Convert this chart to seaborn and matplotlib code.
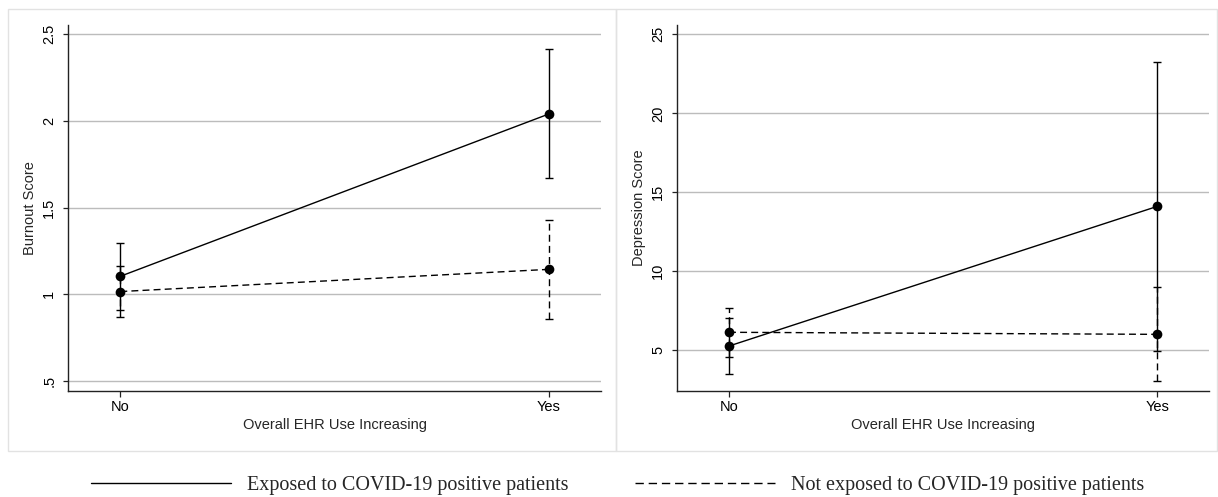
import numpy as np
import pandas as pd
import matplotlib
matplotlib.use("Agg")
import matplotlib.pyplot as plt
from matplotlib.lines import Line2D
from matplotlib.patches import Rectangle
import seaborn as sns

# data
ehr_levels = ["No", "Yes"]
groups = ["Exposed", "Not exposed"]

burnout_exposed = [1.104, 2.04]
burnout_exposed_lo = [0.909, 1.669]
burnout_exposed_hi = [1.296, 2.414]
burnout_notexp = [1.016, 1.144]
burnout_notexp_lo = [0.868, 0.858]
burnout_notexp_hi = [1.165, 1.429]

depr_exposed = [5.27, 14.11]
depr_exposed_lo = [3.50, 4.96]
depr_exposed_hi = [7.06, 23.27]
depr_notexp = [6.14, 6.01]
depr_notexp_lo = [4.59, 3.06]
depr_notexp_hi = [7.68, 8.99]

legend_labels = ["Exposed to COVID-19 positive patients",
                 "Not exposed to COVID-19 positive patients"]

sns.set_style("ticks")
plt.rcParams['font.family'] = ['Liberation Sans', 'DejaVu Sans']
plt.rcParams['font.size'] = 10.5


def make_df(m1, lo1, hi1, m2, lo2, hi2):
    rows = []
    for g, m, lo, hi in [(groups[0], m1, lo1, hi1), (groups[1], m2, lo2, hi2)]:
        for lvl, a, b, c in zip(ehr_levels, m, lo, hi):
            rows.append({'ehr': lvl, 'group': g, 'mean': a, 'lo': b, 'hi': c})
    return pd.DataFrame(rows)


def draw_panel(ax, df, ylabel, ylim, yticks, yticklabels):
    ax.set_xlim(-0.1214, 1.1214)
    ax.set_ylim(*ylim)
    ax.set_yticks(yticks)
    ax.set_yticklabels(yticklabels, rotation=90, va='center')
    for y in yticks:
        ax.axhline(y, color='#bcbcbc', lw=1.0, zorder=0)

    for g in groups:
        sub = df[df['group'] == g]
        eb = ax.errorbar(sub['ehr'], sub['mean'],
                         yerr=[sub['mean'] - sub['lo'], sub['hi'] - sub['mean']],
                         fmt='none', ecolor='black', elinewidth=1.0,
                         capsize=3, capthick=1.0, zorder=2)
        if g == "Not exposed":
            eb[2][0].set_linestyle((0, (5, 3)))

    sns.lineplot(data=df, x='ehr', y='mean', style='group', ax=ax,
                 dashes={"Exposed": '', "Not exposed": (5, 3)},
                 markers={"Exposed": 'o', "Not exposed": 'o'},
                 color='black', lw=1.0, markersize=7,
                 markeredgewidth=0, legend=False, zorder=3)

    ax.set_xlim(-0.1214, 1.1214)
    ax.set_ylim(*ylim)
    ax.set_xlabel("Overall EHR Use Increasing", labelpad=3)
    ax.set_ylabel(ylabel, labelpad=4)
    sns.despine(ax=ax)
    for s in ['left', 'bottom']:
        ax.spines[s].set_color('#222222')
        ax.spines[s].set_linewidth(1.0)
    ax.tick_params(axis='y', length=3.6, width=0.9, pad=5, colors='#222222')
    ax.tick_params(axis='x', length=4.3, width=0.9, pad=2, colors='#222222')
    ax.tick_params(labelcolor='black')


fig = plt.figure(figsize=(12.18, 4.97), dpi=100)
W, H = 1218, 497

# light gray panel frames
for x0, x1 in [(8, 616), (616, 1217)]:
    fig.patches.append(Rectangle((x0 / W, 1 - 451 / H), (x1 - x0) / W, (451 - 9) / H,
                                 transform=fig.transFigure, fill=False,
                                 edgecolor='#e2e2e2', lw=1.0))

ax1 = fig.add_axes([68.3 / W, 1 - 391 / H, 532.4 / W, 366 / H])
ax2 = fig.add_axes([677 / W, 1 - 391 / H, 532.3 / W, 366 / H])

df1 = make_df(burnout_exposed, burnout_exposed_lo, burnout_exposed_hi,
              burnout_notexp, burnout_notexp_lo, burnout_notexp_hi)
df2 = make_df(depr_exposed, depr_exposed_lo, depr_exposed_hi,
              depr_notexp, depr_notexp_lo, depr_notexp_hi)

draw_panel(ax1, df1, "Burnout Score", (0.4423, 2.5537),
           [0.5, 1, 1.5, 2, 2.5], [".5", "1", "1.5", "2", "2.5"])
draw_panel(ax2, df2, "Depression Score", (2.424, 25.59),
           [5, 10, 15, 20, 25], ["5", "10", "15", "20", "25"])

handles = [Line2D([], [], color='black', lw=1.0),
           Line2D([], [], color='black', lw=1.0, ls=(0, (6, 3.5)))]
fig.legend(handles, legend_labels, loc='center', ncol=2, frameon=False,
           bbox_to_anchor=(617.5 / W, 1 - 485 / H),
           prop={'family': ['Liberation Serif', 'DejaVu Serif'], 'size': 14.5},
           handlelength=6.95, handletextpad=0.8, columnspacing=3.3)

fig.savefig("out.png", dpi=100)
